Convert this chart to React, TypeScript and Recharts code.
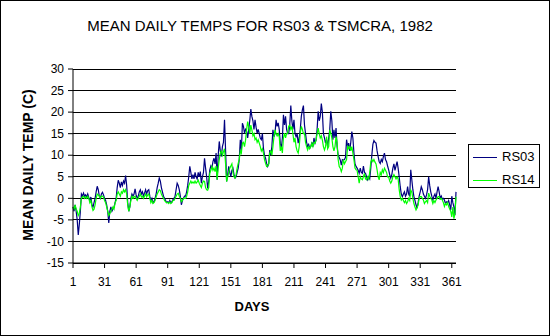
import React from 'react';
import { LineChart, Line, XAxis, YAxis, CartesianGrid } from 'recharts';

// day numbers along the category axis
const days: number[] = Array.from({ length: 365 }, (_, i) => i + 1);

// RS03 mean daily temp (C)
const rs03: number[] = [
  -2, -3, -1.5, -3, -5, -8.5, -6, -3, 1, 0.5,
  1.2, 0.5, 0.8, 0.3, 1, 0.2, -0.5, 0.3, -1.5, -2,
  -1, 0, 1.5, 2.8, 2, 0.5, 0, 1, 1.4, 0.8,
  0, -0.5, -1.5, -3, -5.7, -3, -2, -3, -2.5, -2,
  -1, 0, 2.5, 4.2, 3.5, 2.5, 3.8, 3, 4, 3.5,
  5.3, 3, -1, -3, -2, 0, 1, 0.5, 1, 2.2,
  0.8, 0, 0.5, 1.5, 2, 1, 1.5, 0.5, 1.2, 2,
  1, 1.8, 2, 0.5, -0.5, 0, -1, -0.8, 0, 1,
  2.5, 3.5, 4.7, 4, 2.5, 1.5, 0.5, 0, -0.5, -1,
  -0.8, -1, -0.5, -1, -0.8, -0.3, 0, 0.5, 2, 3.5,
  3, 2, 0.5, -1.5, -0.5, 0, 0.5, 0.5, 1.5, 3,
  5, 7.4, 6, 4.5, 5.5, 4.5, 6, 5, 4.5, 6,
  5, 6.2, 3.5, 5, 6, 9.3, 7, 5, 2.3, 4,
  6.6, 7.5, 7, 8.5, 9.3, 8, 10.5, 4.3, 10, 13.2,
  11, 9.7, 12, 13, 18.2, 11.2, 3.9, 5.5, 7.4, 6,
  5, 6.5, 7, 5.5, 4.7, 5, 6, 7, 9, 13.6,
  11, 17.4, 16.7, 15.1, 16, 15.5, 14, 16, 18, 20.7,
  19, 18, 16, 18.2, 16.5, 15.1, 16, 15, 14, 13.6,
  15, 11.6, 10, 9.3, 8.1, 7.4, 8, 11.2, 10, 12,
  15.9, 14.3, 15, 18.2, 16.7, 17.5, 16, 12.8, 11.6, 14,
  19.4, 17, 19, 16, 15, 15, 17, 21.5, 18, 16,
  18.2, 15, 14.3, 15, 12.8, 14, 16, 19, 20.5, 21.5,
  17, 15, 13, 12, 12.5, 11.6, 12, 13, 12, 14,
  12.8, 13.5, 16, 20.2, 18, 19, 22, 20, 15, 14,
  12.8, 13.6, 12, 14, 15.9, 20.2, 18, 13.6, 15.9, 14,
  16.3, 12, 10, 9.5, 8.9, 7.7, 9, 8.9, 9, 9.5,
  13.6, 12, 12.8, 11, 13, 15.5, 14, 10.5, 8, 7.4,
  7, 6.5, 5.8, 7, 6, 5.8, 7.5, 6, 5.8, 5,
  4.3, 5, 4.5, 7, 10, 12.5, 13.4, 13, 12.8, 11,
  9.7, 8.5, 8.1, 9, 8.5, 9.7, 10.5, 9, 8.5, 7.5,
  6.6, 5.5, 4.7, 5.5, 7, 8, 6.5, 7.5, 8.5, 7,
  5, 2.7, 1, 0.4, 1, 1.5, 0.5, 1, 2.7, 1,
  0.5, 6.6, 4.3, 2, 0.4, -0.5, -1.5, -2.3, -1, 0.5,
  1.5, 2.7, 2, 1, 0.5, 0, 0.8, 2, 5, 3,
  1.5, 0.5, -0.4, 0.5, 1, 0, 1.5, 2.7, 1.5, 0,
  0.5, -0.2, 0, -0.4, -1.2, -0.8, -1, -0.5, -1.5, -2.7,
  0.5, -1, -2, -3.9, 1.5,
];

// RS14 (TSMCRA) mean daily temp (C)
const rs14: number[] = [
  -2, -2.5, -1.5, -2.5, -3, -4, -3.5, -2, 0, 0.3,
  0.5, 0, 0.3, 0, 0.5, 0, -1, -0.5, -2, -2.8,
  -2.5, -1.5, 0, 1, 0.8, 0.5, 0, 0.5, 0.5, 0.3,
  -0.5, -1, -2, -3, -4, -3.5, -3, -2.5, -2, -2.5,
  -1, -0.5, 1, 1.5, 1, 0.5, 1.5, 1.2, 2, 1.5,
  2, 1, -1.5, -3, -2, -0.5, 0.5, 0, 0.3, 0.5,
  0, -0.5, 0, 0.5, 1, 0.3, 0.5, 0, 0.5, 1,
  0.3, 0.8, 1, 0, -1, -0.5, -1.2, -1, -0.5, 0.3,
  1, 1.5, 2, 1.8, 1, 0.5, 0, -0.5, -0.8, -1,
  -1, -1.2, -0.8, -1.2, -1, -0.5, -0.5, 0, 0.5, 1,
  1.2, 0.5, 0, -0.8, -0.5, 0, 0, 0, 0.5, 1.5,
  3, 3.5, 4, 3.5, 3.8, 3.5, 4, 3.5, 3.8, 4.2,
  3.5, 3, 2.5, 3.5, 4, 3.9, 2.5, 2, 1.9, 2.5,
  5.8, 6.5, 7.4, 6.5, 7, 6.2, 7.5, 4.3, 7, 9,
  10.5, 11, 10, 10.8, 11.5, 8, 3.9, 5, 6, 7,
  7.5, 8, 6, 5, 4.7, 5.5, 7, 8.1, 9, 11,
  10.5, 12.8, 13, 12, 13.5, 16, 17.8, 16.5, 15, 17,
  15.9, 14.5, 15, 13.6, 14, 13, 13.6, 12.8, 12, 11,
  11.5, 10.5, 9, 8.1, 7.4, 7.5, 8, 10.5, 11, 10,
  12, 14.3, 15.9, 15, 14.5, 15, 14.3, 11, 12, 10.5,
  14, 15.1, 14, 15, 15.1, 16.7, 17, 16, 16.7, 15,
  13, 14, 12, 11, 10.5, 12, 15.1, 16.7, 16, 15,
  15.1, 13, 12, 11.2, 12, 11.5, 12, 12.8, 12, 13,
  12.8, 13.5, 15, 16.3, 15, 14, 14.5, 13.5, 12, 11.2,
  12, 14.3, 11.5, 12, 15.9, 15.1, 14, 12, 11, 12,
  14.3, 13, 9, 7.4, 7, 6.2, 7, 9, 8, 8.5,
  9, 12, 11.5, 12, 11, 12, 10.5, 9, 7, 6.6,
  6.5, 5, 3.5, 5, 4.5, 4.3, 5, 5.8, 4.5, 4.3,
  5, 4.5, 6, 8.4, 9, 8.5, 9, 8.4, 8, 6.6,
  5, 4.3, 6, 5.5, 6.6, 6, 7, 6.5, 6, 5,
  5, 4, 3.5, 4, 5, 5.5, 5, 4.5, 5, 4.5,
  2, 0.4, -0.4, 0, -0.5, -1, -0.5, -1.2, -0.8, 0,
  -0.5, 1.9, 1.5, 0, -1.2, -2, -2.7, -2.2, -1.5, 0,
  0.4, 0.4, 0, -0.4, -1.2, -0.8, -0.5, -1, 1.2, 0.5,
  0, -0.4, -1.2, -0.5, -1, -0.4, 0, 0.4, 0.4, -0.2,
  0, -0.4, -1, -1.9, -1.2, -1.5, -1, -1.9, -2.5, -3,
  -4.3, -2, -4.7, -3.5, 0.4,
];

const yTicks: number[] = [-15, -10, -5, 0, 5, 10, 15, 20, 25, 30];

const series = [
  { key: 'RS03', color: '#000080' },
  { key: 'RS14', color: '#00FF00' },
];

const data = days.map((d, i) => ({ day: d, RS03: rs03[i], RS14: rs14[i] }));

const FONT = '"Liberation Sans", Arial, sans-serif';

export default function App() {
  return (
    <div style={{ position: 'relative', width: 550, height: 336, background: '#fff', fontFamily: FONT }}>
      <style>{`body{margin:0}`}</style>
      <div
        style={{
          position: 'absolute', left: 0, top: 18, width: 520, textAlign: 'center',
          fontSize: 15, lineHeight: '16px', color: '#000',
        }}
      >
        MEAN DAILY TEMPS FOR RS03 &amp; TSMCRA, 1982
      </div>

      <div style={{ position: 'absolute', left: 0, top: 0 }}>
        <LineChart width={550} height={336} data={data} margin={{ top: 69, right: 94, bottom: 28, left: 13 }}>
          <CartesianGrid vertical={false} stroke="#000" strokeOpacity={1} shapeRendering="crispEdges" />
          <XAxis
            dataKey="day"
            interval={29}
            height={45}
            tickSize={5}
            tickMargin={9}
            stroke="#000"
            tick={{ fill: '#000', fontSize: 12, fontFamily: FONT }}
            label={{
              content: () => (
                <text x={252} y={311} textAnchor="middle" fontSize={13} fontWeight="bold" fontFamily={FONT} fill="#000">
                  DAYS
                </text>
              ),
            }}
          />
          <YAxis
            domain={[-15, 30]}
            ticks={yTicks}
            interval={0}
            width={60}
            tickSize={5}
            tickMargin={4}
            stroke="#000"
            tick={{ fill: '#000', fontSize: 12, fontFamily: FONT }}
            label={{
              content: () => (
                <text
                  x={28}
                  y={165}
                  transform="rotate(-90, 28, 165)"
                  textAnchor="middle"
                  dominantBaseline="central"
                  fontSize={14}
                  fontWeight="bold"
                  fontFamily={FONT}
                  fill="#000"
                >
                  MEAN DAILY TEMP (C)
                </text>
              ),
            }}
          />
          <YAxis yAxisId="edge" orientation="right" width={0} tick={false} tickLine={false} stroke="#000" />
          {series.map((s) => (
            <Line
              key={s.key}
              type="linear"
              dataKey={s.key}
              stroke={s.color}
              strokeWidth={1.2}
              dot={false}
              activeDot={false}
              isAnimationActive={false}
            />
          ))}
        </LineChart>
      </div>

      {/* legend box */}
      <div
        style={{
          position: 'absolute', left: 468, top: 144, width: 72, height: 44, boxSizing: 'border-box',
          border: '1px solid #000', background: '#fff',
        }}
      >
        {series.map((s, i) => (
          <div
            key={s.key}
            style={{ position: 'absolute', left: 4, top: 4 + i * 23, height: 16, display: 'flex', alignItems: 'center' }}
          >
            <div style={{ width: 24, height: 1, background: s.color }} />
            <span style={{ marginLeft: 5, fontSize: 13, lineHeight: '16px', color: '#000' }}>{s.key}</span>
          </div>
        ))}
      </div>

      <div
        style={{
          position: 'absolute', left: 0, top: 0, width: 550, height: 336, boxSizing: 'border-box',
          border: '1px solid #000', pointerEvents: 'none',
        }}
      />
    </div>
  );
}
